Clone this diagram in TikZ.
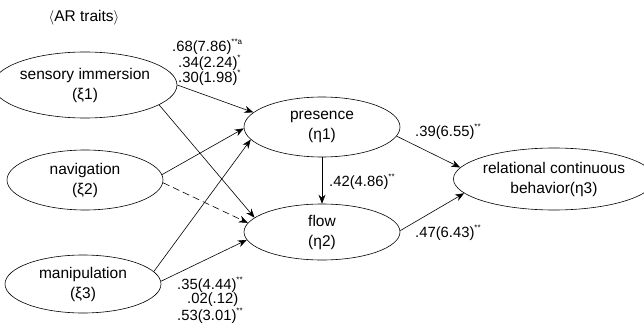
\documentclass[tikz,border=0pt]{standalone}
\usepackage{fontspec}
\setmainfont{Liberation Sans}
\usetikzlibrary{shapes.geometric,arrows.meta}
\newcommand{\sig}[1]{\raisebox{0.9ex}{\fontsize{8}{8}\selectfont #1}}
\tikzset{
  lat/.style={ellipse,draw,line width=0.6pt,inner sep=0pt,align=center,
    font=\fontsize{15.5}{20}\selectfont},
  coef/.style={anchor=west,inner sep=0pt,font=\fontsize{14.8}{15}\selectfont},
  path/.style={line width=0.6pt,-{Stealth[length=9pt,width=7pt]}},
  npath/.style={path,dash pattern=on 7pt off 4pt}
}
\begin{document}
\begin{tikzpicture}[x=1pt,y=1pt]
\useasboundingbox (0,0) rectangle (644,327);
\node[inner sep=0pt,font=\fontsize{15.5}{18}\selectfont] (title) at (84,309) {$\langle$AR traits$\rangle$};
\node[lat,minimum width=154pt,minimum height=66pt] (si) at (85,242) {sensory immersion\\(ξ1)};
\node[lat,minimum width=156pt,minimum height=60pt] (nav) at (85,147) {navigation\\(ξ2)};
\node[lat,minimum width=156pt,minimum height=58pt] (man) at (83,43) {manipulation\\(ξ3)};
\node[lat,minimum width=156pt,minimum height=60pt] (pres) at (322,200) {presence\\(η1)};
\node[lat,minimum width=156pt,minimum height=56pt] (flow) at (322,95) {flow\\(η2)};
\node[lat,minimum width=178pt,minimum height=62pt] (rel) at (554,148) {relational continuous\\behavior(η3)};
\draw[path] (si.0) -- (pres.168);
\draw[path] (si.-15) -- (flow.168);
\draw[path] (nav.4) -- (pres.181);
\draw[npath] (nav.-2) -- (flow.173);
\draw[path] (man.10) -- (pres.190);
\draw[path] (man.2) -- (flow.186);
\draw[path] (pres.south) -- (flow.north);
\draw[path] (pres.-7) -- (rel.173);
\draw[path] (flow.1) -- (rel.189);
\node[coef] (c1) at (172,280) {.68(7.86)\sig{**a}};
\node[coef] (c2) at (178,264) {.34(2.24)\sig{*}};
\node[coef] (c3) at (178,249) {.30(1.98)\sig{*}};
\node[coef] (c4) at (177,42) {.35(4.44)\sig{**}};
\node[coef] (c5) at (187,27) {.02(.12)};
\node[coef] (c6) at (177,11) {.53(3.01)\sig{**}};
\node[coef] (c7) at (415,195) {.39(6.55)\sig{**}};
\node[coef] (c8) at (329,145) {.42(4.86)\sig{**}};
\node[coef] (c9) at (415,94) {.47(6.43)\sig{**}};
\end{tikzpicture}
\end{document}
